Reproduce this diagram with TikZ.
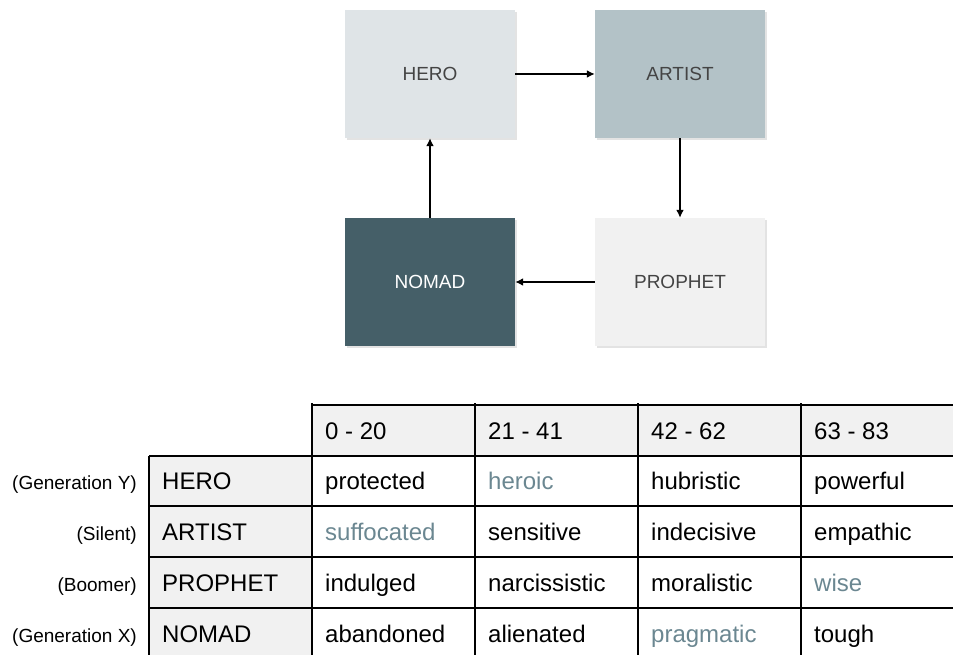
\documentclass[tikz,border=0pt]{standalone}
\usepackage{fontspec}
\setmainfont{Liberation Sans}
\usetikzlibrary{arrows.meta,shadows}
\definecolor{cHero}{HTML}{DFE4E7}
\definecolor{cArt} {HTML}{B3C2C7}
\definecolor{cNom} {HTML}{455F68}
\definecolor{cPro} {HTML}{F1F1F1}
\definecolor{cTxt} {HTML}{444444}
\definecolor{cMute}{HTML}{6B8791}
\definecolor{cHead}{HTML}{F1F1F1}
\tikzset{
  box/.style  ={fill=#1,minimum width=170pt,minimum height=128pt,inner sep=0pt,
                font=\fontsize{19}{22}\selectfont,text=cTxt,
                drop shadow={shadow xshift=1.5pt,shadow yshift=-2pt,opacity=0.22}},
  sig/.style  ={-{Latex[length=8pt,width=8pt]},draw=black,line width=1.8pt},
  grid/.style ={draw=black,line width=1.5pt},
  cell/.style ={anchor=base west,inner sep=0pt,font=\fontsize{24}{28}\selectfont},
  mute/.style ={cell,text=cMute},
  side/.style ={anchor=base east,inner sep=0pt,font=\fontsize{19}{22}\selectfont},
}

\begin{document}
\begin{tikzpicture}[x=1pt,y=-1pt]
\useasboundingbox (0,0) rectangle (953,655);

\node[box=cHero] (hero) at (430,74)  {HERO};
\node[box=cArt]  (art)  at (680,74)  {ARTIST};
\node[box=cNom,text=white] (nom) at (430,282) {NOMAD};
\node[box=cPro]  (pro)  at (680,282) {PROPHET};
\draw[sig] (hero.east) -- (art.west);
\draw[sig] (art.south) -- (pro.north);
\draw[sig] (pro.west) -- (nom.east);
\draw[sig] (nom.north) -- (hero.south);

\fill[cHead] (312,405) rectangle (953,456);
\fill[cHead] (149,456) rectangle (312,660);
\draw[grid] (312,405) -- (953,405);
\foreach \y in {456,506,557,608} \draw[grid] (149,\y) -- (953,\y);
\draw[grid] (149,456) -- (149,660);
\foreach \x in {312,475,638,801} \draw[grid] (\x,403) -- (\x,660);

\foreach \lab [count=\c] in {0 - 20, 21 - 41, 42 - 62, 63 - 83}{
  \node[cell] (h\c) at ({325+163*(\c-1)},439) {\lab};
}
\foreach \r/\y/\gen/\nm in {1/489/Generation Y/HERO, 2/540/Silent/ARTIST,
                            3/591/Boomer/PROPHET, 4/642/Generation X/NOMAD}{
  \node[side] (g\r) at (137,\y) {(\gen)};
  \node[cell] (n\r) at (162,\y) {\nm};
}
\foreach \r/\y/\row in {
    1/489/{protected/cell,heroic/mute,hubristic/cell,powerful/cell},
    2/540/{suffocated/mute,sensitive/cell,indecisive/cell,empathic/cell},
    3/591/{indulged/cell,narcissistic/cell,moralistic/cell,wise/mute},
    4/642/{abandoned/cell,alienated/cell,pragmatic/mute,tough/cell}}{
  \foreach \w/\s [count=\c] in \row{
    \node[\s] (t\r\c) at ({325+163*(\c-1)},\y) {\w};
  }
}
\end{tikzpicture}
\end{document}
